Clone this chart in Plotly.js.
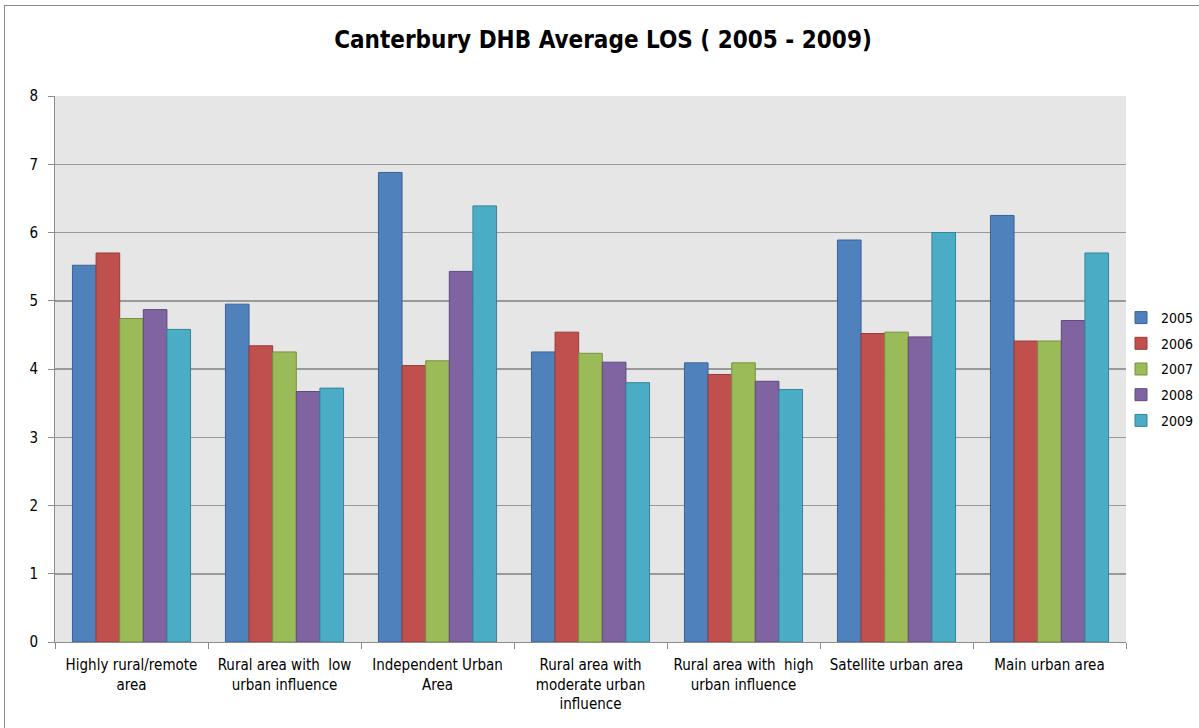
<!DOCTYPE html>
<html>
<head>
<meta charset="utf-8">
<script src="https://cdn.plot.ly/plotly-3.0.1.min.js"></script>
<style>
  html, body { margin: 0; padding: 0; background: #ffffff; overflow: hidden; }
  #frame { position: absolute; left: 4px; top: 5px; width: 1400px; height: 900px;
           border-left: 1px solid #8c8c8c; border-top: 1px solid #8c8c8c; }
  #chart { position: absolute; left: 0; top: 0; width: 1199px; height: 728px; }
</style>
</head>
<body>
<div id="frame"></div>
<div id="chart"></div>
<script>
const categories = [
  "Highly rural/remote<br>area",
  "Rural area with  low<br>urban influence",
  "Independent Urban<br>Area",
  "Rural area with<br>moderate urban<br>influence",
  "Rural area with  high<br>urban influence",
  "Satellite urban area",
  "Main urban area"
];
const years = ["2005", "2006", "2007", "2008", "2009"];
const v2005 = [5.52, 4.95, 6.88, 4.25, 4.09, 5.89, 6.25];
const v2006 = [5.70, 4.34, 4.05, 4.54, 3.92, 4.52, 4.41];
const v2007 = [4.74, 4.25, 4.12, 4.23, 4.09, 4.54, 4.41];
const v2008 = [4.87, 3.67, 5.43, 4.10, 3.82, 4.47, 4.71];
const v2009 = [4.58, 3.72, 6.39, 3.80, 3.70, 6.00, 5.70];
const seriesValues = [v2005, v2006, v2007, v2008, v2009];
const fillColors = ["#4F81BD", "#C0504D", "#9BBB59", "#8064A2", "#4BACC6"];
const lineColors = ["#3B6393", "#953D3B", "#77913F", "#5F4A7A", "#378399"];

const FONT = "'Liberation Sans Narrow', 'DejaVu Sans Condensed', Roboto, sans-serif";

const traces = years.map((y, i) => ({
  type: "bar",
  name: y,
  x: categories,
  y: seriesValues[i],
  marker: { color: fillColors[i], line: { color: lineColors[i], width: 1 } },
  legendgroup: y
}));

const layout = {
  width: 1199,
  height: 728,
  margin: { l: 55, r: 73, t: 96, b: 86, autoexpand: false },
  paper_bgcolor: "rgba(0,0,0,0)",
  plot_bgcolor: "#E6E6E6",
  font: { family: FONT, color: "#000000", size: 14 },
  title: {
    text: "<b>Canterbury DHB Average LOS ( 2005 - 2009)</b>",
    font: { family: FONT, size: 24, color: "#000000" },
    x: 603 / 1199, xref: "container", xanchor: "center",
    y: 1 - 40 / 728, yref: "container", yanchor: "middle"
  },
  barmode: "group",
  bargap: 0.228,
  bargroupgap: 0,
  showlegend: true,
  legend: {
    x: 1121 / 1199, xref: "container", xanchor: "left",
    y: 1 - 369 / 728, yref: "container", yanchor: "middle",
    font: { family: FONT, size: 14, color: "#000000" },
    bgcolor: "rgba(0,0,0,0)",
    traceorder: "grouped",
    tracegroupgap: 4.5,
    itemwidth: 30
  },
  xaxis: {
    type: "category",
    tickson: "boundaries",
    ticks: "outside",
    ticklen: 6,
    tickcolor: "#8c8c8c",
    showline: true,
    linecolor: "#8c8c8c",
    linewidth: 1,
    showgrid: false,
    tickfont: { family: FONT, size: 15, color: "#000000" },
    tickangle: 0,
    ticklabelstandoff: 9,
    automargin: false
  },
  yaxis: {
    range: [0, 8],
    dtick: 1,
    tick0: 0,
    ticks: "outside",
    ticklen: 6,
    tickcolor: "#8c8c8c",
    showline: true,
    linecolor: "#8c8c8c",
    linewidth: 1,
    showgrid: true,
    gridcolor: "#999999",
    gridwidth: 1.5,
    zeroline: false,
    tickfont: { family: FONT, size: 15, color: "#000000" },
    ticklabelstandoff: 7,
    automargin: false
  }
};

Plotly.newPlot("chart", traces, layout, { displayModeBar: false, staticPlot: true });
</script>
</body>
</html>
